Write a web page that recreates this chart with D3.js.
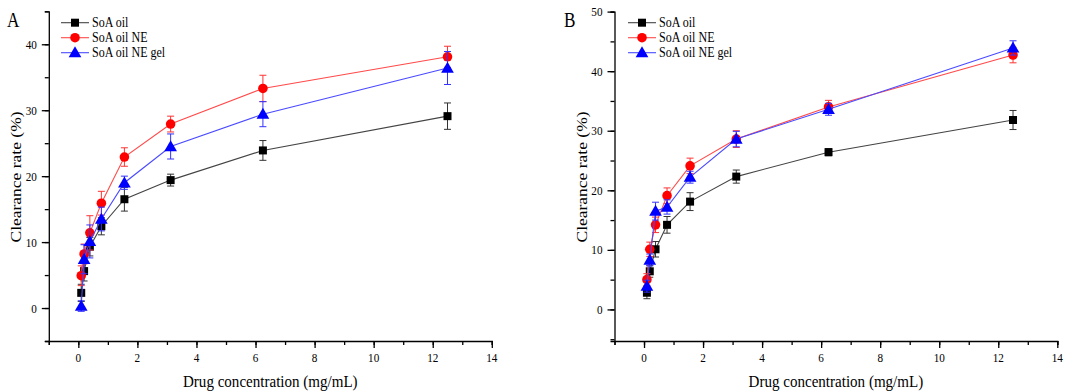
<!DOCTYPE html>
<html><head><meta charset="utf-8">
<script src="https://cdn.jsdelivr.net/npm/d3@7"></script>
<style>body{margin:0;background:#fff}svg{display:block}text{font-family:"Liberation Serif","Times New Roman",serif}</style>
</head><body>
<svg id="c" width="1065" height="391"></svg>
<script>
const concentrations = [0.098, 0.195, 0.39, 0.78, 1.56, 3.125, 6.25, 12.5];
const seriesNames = ["SoA oil", "SoA oil NE", "SoA oil NE gel"];
// Panel A
const aOil     = [2.3, 5.6, 9.3, 12.4, 16.5, 19.4, 23.9, 29.1];
const aOilErr  = [1.3, 1.5, 1.4, 1.3, 1.8, 0.9, 1.5, 2.0];
const aNE      = [4.9, 8.2, 11.4, 15.9, 22.9, 27.9, 33.3, 38.1];
const aNEErr   = [1.5, 1.5, 2.6, 1.8, 1.4, 1.2, 2.0, 1.6];
const aGel     = [0.3, 7.4, 10.1, 13.5, 19.0, 24.5, 29.4, 36.4];
const aGelErr  = [0.8, 2.2, 2.5, 1.8, 1.0, 1.9, 1.9, 2.5];
// Panel B
const bOil     = [2.8, 6.4, 10.1, 14.2, 18.1, 22.3, 26.4, 31.8];
const bOilErr  = [1.0, 1.0, 1.3, 1.4, 1.5, 1.1, 0.6, 1.6];
const bNE      = [5.0, 10.1, 14.2, 19.1, 24.1, 28.6, 34.0, 42.7];
const bNEErr   = [1.0, 1.2, 1.3, 1.3, 1.3, 1.4, 1.1, 1.3];
const bGel     = [3.9, 8.3, 16.5, 17.2, 22.2, 28.6, 33.6, 43.9];
const bGelErr  = [1.0, 1.0, 1.5, 1.2, 1.0, 1.3, 1.0, 1.2];
const xTicks = [0, 2, 4, 6, 8, 10, 12, 14];
const aYTicks = [0, 10, 20, 30, 40];
const bYTicks = [0, 10, 20, 30, 40, 50];

const markerColors = ["#000000", "#ff0000", "#0000ff"];
const lineColors = ["#444444", "#ff4a4a", "#4a4aff"];
const errColors = ["#333333", "#ff3333", "#3333ff"];
const shapes = [d3.symbolSquare, d3.symbolCircle, d3.symbolTriangle];
const sizes = [64, 72, 70];
const SX = 0.86;

const svg = d3.select("#c");

function txt(g, x, y, s, size, anchor, sx) {
  return g.append("text").attr("transform", `translate(${x},${y}) scale(${sx},1)`)
    .attr("font-size", size).attr("text-anchor", anchor).attr("fill", "#000").text(s);
}

function panel(opt) {
  const x = d3.scaleLinear().domain([-1, 14]).range([opt.x0, opt.x1]);
  const y = d3.scaleLinear().domain(opt.yDomain).range([341, opt.yTop]);
  const g = svg.append("g");
  // x axis
  const xa = g.append("g").attr("transform", "translate(0,341)");
  xa.call(d3.axisBottom(x).tickValues(d3.range(-1, 15, 1)).tickSize(4).tickFormat(""));
  xa.append("g").call(d3.axisBottom(x).tickValues(xTicks).tickSize(7).tickFormat(""))
    .call(s => s.select(".domain").remove());
  xa.selectAll("path,line").attr("stroke", "#000").attr("stroke-width", 1.3);
  xTicks.forEach(t => txt(g, x(t), 361.5, d3.format("d")(t), 13, "middle", SX));
  // y axis
  const ya = g.append("g").attr("transform", `translate(${opt.x0},0)`);
  const minor = d3.range(Math.ceil(opt.yDomain[0] / 5) * 5, opt.yDomain[1] + 0.01, 5);
  ya.call(d3.axisLeft(y).tickValues(minor).tickSize(4).tickFormat(""));
  ya.append("g").call(d3.axisLeft(y).tickValues(opt.yTicks).tickSize(7).tickFormat(""))
    .call(s => s.select(".domain").remove());
  ya.selectAll("path,line").attr("stroke", "#000").attr("stroke-width", 1.3);
  opt.yTicks.forEach(t => txt(g, opt.x0 - 12, y(t) + 4.5, d3.format("d")(t), 13, "end", SX));

  // series
  opt.series.forEach((vals, i) => {
    const errs = opt.errs[i];
    const pts = concentrations.map((c, k) => ({ c, v: vals[k], e: errs[k] }));
    g.append("path").datum(pts)
      .attr("fill", "none").attr("stroke", lineColors[i]).attr("stroke-width", 1.1)
      .attr("d", d3.line().x(d => x(d.c)).y(d => y(d.v)));
    const eb = g.append("g").attr("stroke", errColors[i]).attr("stroke-width", 1);
    pts.forEach(d => {
      const xx = x(d.c);
      eb.append("line").attr("x1", xx).attr("x2", xx).attr("y1", y(d.v - d.e)).attr("y2", y(d.v + d.e));
      eb.append("line").attr("x1", xx - 3.5).attr("x2", xx + 3.5).attr("y1", y(d.v + d.e)).attr("y2", y(d.v + d.e));
      eb.append("line").attr("x1", xx - 3.5).attr("x2", xx + 3.5).attr("y1", y(d.v - d.e)).attr("y2", y(d.v - d.e));
    });
    g.append("g").selectAll("path").data(pts).join("path")
      .attr("transform", d => `translate(${x(d.c)},${y(d.v) + (i === 2 ? 1 : 0)})`)
      .attr("d", d3.symbol().type(shapes[i]).size(sizes[i]))
      .attr("fill", markerColors[i]);
  });

  // legend
  seriesNames.forEach((name, i) => {
    const ly = 22.7 + i * 15;
    g.append("line").attr("x1", opt.lx).attr("x2", opt.lx + 28).attr("y1", ly).attr("y2", ly)
      .attr("stroke", lineColors[i]).attr("stroke-width", 1.1);
    g.append("path").attr("transform", `translate(${opt.lx + 14},${ly + (i === 2 ? 1 : 0)})`)
      .attr("d", d3.symbol().type(shapes[i]).size(sizes[i])).attr("fill", markerColors[i]);
    txt(g, opt.lx + 31, ly + 4.5, name, 14, "start", SX);
  });

  // labels
  txt(g, (opt.x0 + opt.x1) / 2, 386.5, "Drug concentration (mg/mL)", 17.5, "middle", SX);
  g.append("text").attr("transform", `translate(${opt.ylx},177) rotate(-90) scale(1,${SX})`)
    .attr("text-anchor", "middle").attr("font-size", 17.5).attr("fill", "#000").text("Clearance rate (%)");
  txt(g, opt.px, 27, opt.label, 20, "start", SX);
}

panel({ x0: 48.8, x1: 491.8, yDomain: [-5, 45], yTop: 11.3, yTicks: aYTicks,
  series: [aOil, aNE, aGel], errs: [aOilErr, aNEErr, aGelErr], lx: 61, ylx: 21, px: 7, label: "A" });
panel({ x0: 614.5, x1: 1057.3, yDomain: [-5.3, 50], yTop: 11.6, yTicks: bYTicks,
  series: [bOil, bNE, bGel], errs: [bOilErr, bNEErr, bGelErr], lx: 628, ylx: 587, px: 564, label: "B" });
</script>
</body></html>
